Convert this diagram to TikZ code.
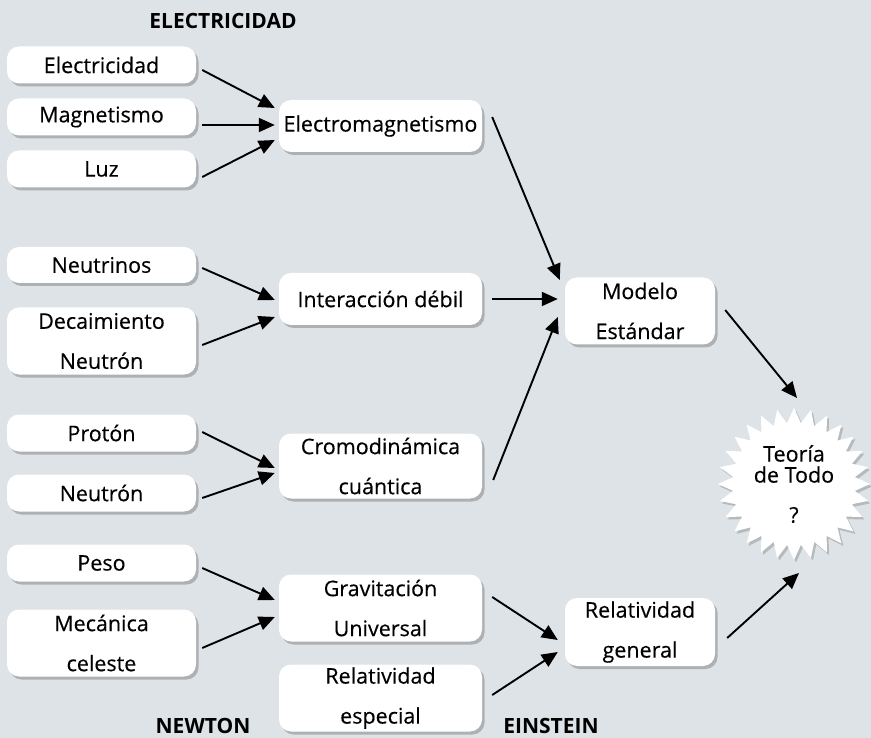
\documentclass[tikz,border=0pt]{standalone}
\usepackage{fontspec}
\setmainfont{Open Sans}[UprightFeatures={FakeBold=0.35}]
\usetikzlibrary{shapes.geometric,shadows,arrows.meta}
\definecolor{bgc}{RGB}{222,227,231}
\begin{document}
\begin{tikzpicture}[x=1pt,y=-1pt,
  box/.style={fill=white, rounded corners=12pt,
    drop shadow={shadow xshift=2.5pt, shadow yshift=-3pt, fill=black, opacity=0.22},
    align=center, inner sep=0pt, font=\fontsize{21.5}{40}\selectfont},
  lbox/.style={box, minimum width=189pt},
  mbox/.style={box, minimum width=203pt},
  rbox/.style={box, minimum width=150pt},
  lbl/.style={font=\fontsize{21}{24}\selectfont\bfseries, inner sep=0pt},
  arr/.style={line width=1.9pt, -{Triangle[length=16pt,width=14pt]}}]
\fill[bgc] (0,0) rectangle (871,738);
\useasboundingbox (0,0) rectangle (871,738);

% left column
\node[lbox, minimum height=37pt] (elec) at (101.5,65) {Electricidad};
\node[lbox, minimum height=37pt] (mag) at (101.5,117) {Magnetismo};
\node[lbox, minimum height=37pt] (luz) at (101.5,169) {Luz};
\node[lbox, minimum height=36pt] (neu) at (101.5,265) {Neutrinos};
\node[lbox, minimum height=67pt] (dec) at (101.5,341) {Decaimiento\\Neutrón};
\node[lbox, minimum height=37pt] (pro) at (101.5,433) {Protón};
\node[lbox, minimum height=37pt] (neut) at (101.5,493) {Neutrón};
\node[lbox, minimum height=37pt] (peso) at (101.5,563) {Peso};
\node[lbox, minimum height=67pt] (mec) at (101.5,643) {Mecánica\\celeste};

% middle column
\node[mbox, minimum height=52pt] (em) at (380.5,126) {Electromagnetismo};
\node[mbox, minimum height=52pt] (inter) at (380.5,299) {Interacción débil};
\node[mbox, minimum height=65pt] (cromo) at (380.5,466) {Cromodinámica\\cuántica};
\node[mbox, minimum height=67pt] (grav) at (380.5,608) {Gravitación\\Universal};
\node[mbox, minimum height=67pt] (rele) at (380.5,698) {Relatividad\\especial};

% right column
\node[rbox, minimum height=67pt] (mod) at (640,311) {Modelo\\Estándar};
\node[rbox, minimum height=68pt] (relg) at (640,632) {Relatividad\\general};

% star
\node[star, star points=28, star point ratio=1.24, minimum size=152pt,
  fill=white, inner sep=0pt, align=center,
  drop shadow={shadow xshift=2pt, shadow yshift=-2.5pt, fill=black, opacity=0.18},
  font=\fontsize{21.5}{21}\selectfont] (star) at (794,484) {Teoría\\de Todo\\[19pt]?};

% labels
\node[lbl] (lE) at (223,21) {ELECTRICIDAD};
\node[lbl] (lN) at (203,726) {NEWTON};
\node[lbl] (lI) at (551,726) {EINSTEIN};

% arrows
\draw[arr] ([shift={(6,5)}]elec.east) -- ([shift={(-4,-18)}]em.west);
\draw[arr] ([shift={(6,8)}]mag.east) -- ([shift={(-4,-1)}]em.west);
\draw[arr] ([shift={(6,8)}]luz.east) -- ([shift={(-4,14)}]em.west);
\draw[arr] ([shift={(10,-9)}]em.east) -- ([shift={(-5,-31)}]mod.west);
\draw[arr] ([shift={(10,0)}]inter.east) -- ([shift={(-7,-12)}]mod.west);
\draw[arr] ([shift={(11,14)}]cromo.east) -- ([shift={(-7,6)}]mod.west);
\draw[arr] ([shift={(10,-1)}]mod.east) -- ([shift={(3,-86)}]star.center);
\draw[arr] ([shift={(6,3)}]neu.east) -- ([shift={(-4,1)}]inter.west);
\draw[arr] ([shift={(6,4)}]dec.east) -- ([shift={(-4,18)}]inter.west);
\draw[arr] ([shift={(6,-1)}]pro.east) -- ([shift={(-4,2)}]cromo.west);
\draw[arr] ([shift={(6,5)}]neut.east) -- ([shift={(-4,7)}]cromo.west);
\draw[arr] ([shift={(6,5)}]peso.east) -- ([shift={(-4,-8)}]grav.west);
\draw[arr] ([shift={(6,5)}]mec.east) -- ([shift={(-4,9)}]grav.west);
\draw[arr] ([shift={(10,-11)}]grav.east) -- ([shift={(-7,8)}]relg.west);
\draw[arr] ([shift={(10,-3)}]rele.east) -- ([shift={(-7,20)}]relg.west);
\draw[arr] ([shift={(12,6)}]relg.east) -- ([shift={(5,89)}]star.center);
\end{tikzpicture}
\end{document}
